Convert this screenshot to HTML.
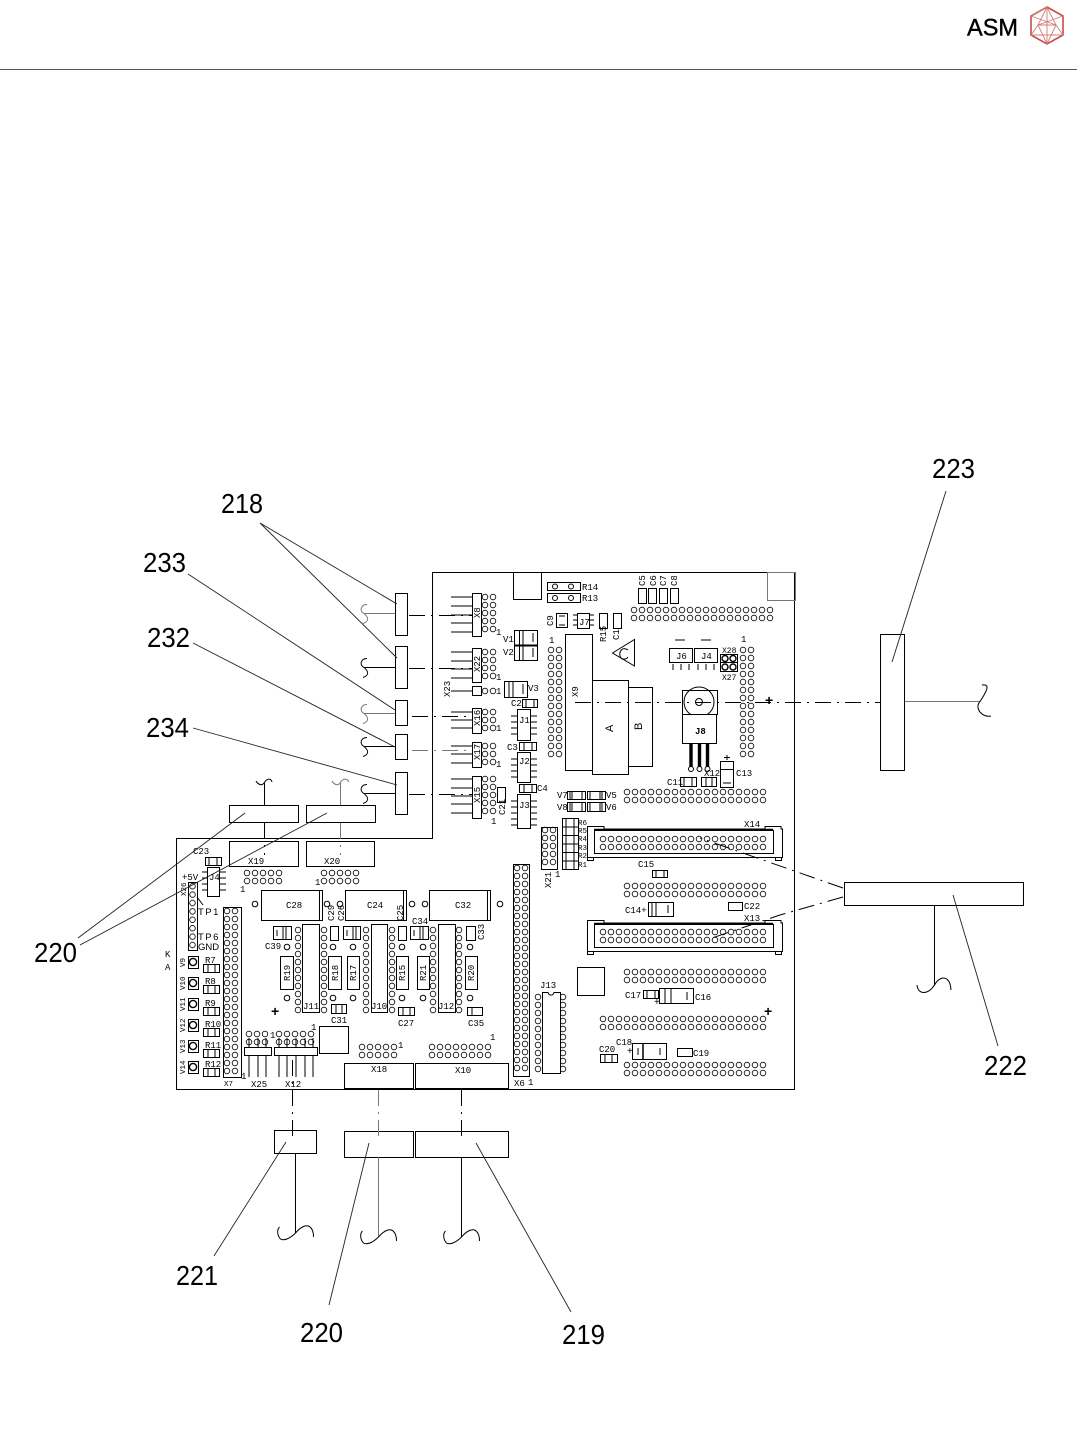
<!DOCTYPE html>
<html><head><meta charset="utf-8"><style>
html,body{margin:0;padding:0;background:#fff}
svg{display:block}
.b{fill:#fff;stroke:#000;stroke-width:1}
.n{fill:none;stroke:#000;stroke-width:1}
.g{fill:none;stroke:#777;stroke-width:1}
.d{fill:none;stroke:#000;stroke-width:1;stroke-dasharray:16 6 2 6}
.dg{fill:none;stroke:#777;stroke-width:1;stroke-dasharray:16 6 2 6}
.l{fill:none;stroke:#222;stroke-width:.9}
text{font-family:"Liberation Sans",sans-serif;fill:#000}
.t{font-family:"Liberation Mono",monospace;font-size:9px}
.L{font-size:28px}
</style></head><body>
<svg width="1077" height="1449" viewBox="0 0 1077 1449" xmlns="http://www.w3.org/2000/svg">
<defs>
<pattern id="h" patternUnits="userSpaceOnUse" width="8" height="8"><circle cx="4" cy="4" r="2.8" fill="#fff" stroke="#000" stroke-width=".8"/></pattern>
<pattern id="v" patternUnits="userSpaceOnUse" width="8" height="8.4"><circle cx="4" cy="4.2" r="2.8" fill="#fff" stroke="#000" stroke-width=".8"/></pattern>
<g id="s"><path class="n" d="M0 0H-31M-31 0C-36 -3 -34 -9 -28 -9M-31 0C-26 4 -26 8 -32 10"/></g>
<g id="sg"><path class="g" d="M0 0H-31M-31 0C-36 -3 -34 -9 -28 -9M-31 0C-26 4 -26 8 -32 10"/></g>
<g id="sb"><path class="n" d="M0 0C-6 6 -12 8 -15 6C-18 3 -19 -3 -16 -6M0 0C5 -6 10 -8 13 -7C17 -5 18 0 18 4"/></g>
</defs>
<rect width="1077" height="1449" fill="#fff"/>

<!-- header -->
<line x1="0" y1="69.5" x2="1077" y2="69.5" stroke="#555" stroke-width="1"/>
<text x="967" y="35.5" font-size="24" textLength="51" lengthAdjust="spacingAndGlyphs" stroke="#000" stroke-width=".4">ASM</text>
<g fill="none" stroke="#c0504a" stroke-width="1.6"><path d="M1047 7L1063 16V35L1047 44L1031 35V16Z"/></g>
<g fill="none" stroke="#d47a74" stroke-width=".9"><path d="M1047 7L1038 25H1056ZM1031 16L1056 25L1047 44L1038 25L1031 35M1063 16L1038 25M1063 35L1056 25M1031 16L1047 7M1047 7V44M1031 35H1063"/></g>

<!-- board outline -->
<path class="n" d="M432.5 572.5H794.5V1089.5H176.5V838.5H432.5Z"/>
<rect class="b" x="513.5" y="572.5" width="28" height="27"/>
<rect class="g" x="767.5" y="572.5" width="28" height="28"/>

<!-- hole grids -->
<g fill="url(#h)">
<rect transform="translate(630,606)" width="144" height="16"/>
<rect transform="translate(623,788)" width="144" height="16"/>
<rect transform="translate(547,646)" width="16" height="112"/>
<rect transform="translate(739,646)" width="16" height="112"/>
<rect transform="translate(623,882)" width="144" height="16"/>
<rect transform="translate(623,968)" width="144" height="16"/>
<rect transform="translate(599,1015)" width="168" height="16"/>
<rect transform="translate(623,1061)" width="144" height="16"/>
<rect transform="translate(223,907)" width="16" height="168"/>
<rect transform="translate(513,864)" width="16" height="208"/>
<rect transform="translate(243,869)" width="40" height="16"/>
<rect transform="translate(320,869)" width="40" height="16"/>
<rect transform="translate(358,1043)" width="40" height="16"/>
<rect transform="translate(428,1043)" width="64" height="16"/>
<rect transform="translate(245,1030)" width="24" height="16"/>
<rect transform="translate(275,1030)" width="40" height="16"/>
<rect transform="translate(294,926)" width="8" height="88"/>
<rect transform="translate(320,926)" width="8" height="88"/>
<rect transform="translate(362,926)" width="8" height="88"/>
<rect transform="translate(388,926)" width="8" height="88"/>
<rect transform="translate(429,926)" width="8" height="88"/>
<rect transform="translate(455,926)" width="8" height="88"/>
<rect transform="translate(534,993)" width="8" height="80"/>
<rect transform="translate(559,993)" width="8" height="80"/>
<rect transform="translate(541,826)" width="16" height="40"/>
<rect transform="translate(481,593)" width="16" height="40"/>
<rect transform="translate(481,648)" width="16" height="32"/>
<rect transform="translate(481,687)" width="16" height="8"/>
<rect transform="translate(481,708)" width="16" height="24"/>
<rect transform="translate(481,742)" width="16" height="24"/>
<rect transform="translate(481,775)" width="16" height="40"/>
</g>
<g fill="url(#v)"><rect transform="translate(188.5,882)" width="8" height="67"/></g>
<rect class="n" x="188.5" y="882.5" width="9" height="68"/>
<rect class="n" x="223.5" y="907.5" width="18" height="170"/>
<rect class="n" x="513.5" y="864.5" width="16" height="212"/>

<!-- small left connectors -->
<path class="n" d="M451 597H472M451 606H472M451 623H472M451 632H472M451 615H472M451 652H472M451 661H472M451 669H472M451 678H472M451 691H472M451 712H472M451 720H472M451 728H472M451 746H472M451 754H472M451 763H472M451 779H472M451 788H472M451 796H472M451 804H472M451 813H472"/>
<rect class="b" x="472.5" y="593.5" width="9" height="43"/>
<rect class="b" x="472.5" y="648.5" width="9" height="34"/>
<rect class="b" x="472.5" y="686.5" width="9" height="9"/>
<rect class="b" x="472.5" y="708.5" width="9" height="25"/>
<rect class="b" x="472.5" y="742.5" width="9" height="25"/>
<rect class="b" x="472.5" y="776.5" width="9" height="42"/>
<text class="t" transform="translate(480,618) rotate(-90)">X8</text>
<text class="t" transform="translate(480,672) rotate(-90)">X22</text>
<text class="t" transform="translate(480,726) rotate(-90)">X16</text>
<text class="t" transform="translate(480,760) rotate(-90)">X17</text>
<text class="t" transform="translate(480,803) rotate(-90)">X15</text>
<text class="t" transform="translate(450,697) rotate(-90)">X23</text>
<text class="t" x="496" y="635">1</text><text class="t" x="496" y="680">1</text><text class="t" x="496" y="694">1</text><text class="t" x="496" y="731">1</text><text class="t" x="496" y="767">1</text><text class="t" x="491" y="824">1</text>

<!-- top parts -->
<rect class="b" x="547.5" y="582.5" width="33" height="8"/><rect class="b" x="547.5" y="593.5" width="33" height="9"/>
<circle class="n" cx="555" cy="586.5" r="2.5"/><circle class="n" cx="571" cy="586.5" r="2.5"/><circle class="n" cx="555" cy="598" r="2.5"/><circle class="n" cx="571" cy="598" r="2.5"/>
<text class="t" x="582" y="590">R14</text><text class="t" x="582" y="601">R13</text>
<rect class="b" x="638.5" y="588.5" width="8" height="15"/><rect class="b" x="648.5" y="588.5" width="8" height="15"/><rect class="b" x="659.5" y="588.5" width="8" height="15"/><rect class="b" x="670.5" y="588.5" width="8" height="15"/>
<text class="t" transform="translate(645,586) rotate(-90)">C5</text><text class="t" transform="translate(656,586) rotate(-90)">C6</text><text class="t" transform="translate(666,586) rotate(-90)">C7</text><text class="t" transform="translate(677,586) rotate(-90)">C8</text>
<rect class="b" x="556.5" y="613.5" width="11" height="14"/><path class="n" d="M559 616H565M559 625H565"/>
<text class="t" transform="translate(553,626) rotate(-90)">C9</text>
<rect class="b" x="577.5" y="613.5" width="12" height="15"/>
<path class="n" d="M573 615H577M573 620H577M573 625H577M590 615H594M590 620H594M590 625H594"/><text class="t" x="579" y="625">J7</text>
<rect class="b" x="599.5" y="613.5" width="8" height="15"/><rect class="b" x="613.5" y="613.5" width="8" height="15"/>
<text class="t" transform="translate(606,642) rotate(-90)">R15</text><text class="t" transform="translate(619,640) rotate(-90)">C1</text>
<rect class="b" x="514.5" y="630.5" width="23" height="15"/><rect class="b" x="514.5" y="645.5" width="23" height="15"/>
<path class="n" d="M519.5 631V660M523 631V660M533 633V642M533 648V657"/><line x1="514" y1="645.5" x2="537" y2="645.5" stroke="#000" stroke-width="2"/>
<text class="t" x="503" y="642">V1</text><text class="t" x="503" y="655">V2</text>
<rect class="b" x="504.5" y="681.5" width="23" height="16"/><path class="n" d="M509 682V697M513 682V697M523 684V694"/><text class="t" x="528" y="691">V3</text>

<!-- ICs left col -->
<rect class="b" x="522.5" y="699.5" width="15" height="8"/><path class="n" d="M526 700V707M534 700V707"/><text class="t" x="511" y="706">C2</text>
<rect class="b" x="517.5" y="709.5" width="13" height="31"/><path class="n" d="M511 716H517M511 722H517M511 728H517M511 734H517M531 716H537M531 722H537M531 728H537M531 734H537"/><text class="t" x="519" y="723">J1</text>
<rect class="b" x="519.5" y="742.5" width="17" height="8"/><path class="n" d="M524 743V750M532 743V750"/><text class="t" x="507" y="750">C3</text>
<rect class="b" x="517.5" y="752.5" width="13" height="30"/><path class="n" d="M511 759H517M511 765H517M511 771H517M511 777H517M531 759H537M531 765H537M531 771H537M531 777H537"/><text class="t" x="519" y="764">J2</text>
<rect class="b" x="519.5" y="784.5" width="17" height="8"/><path class="n" d="M524 785V792M532 785V792"/><text class="t" x="537" y="791">C4</text>
<rect class="b" x="517.5" y="794.5" width="13" height="34"/><path class="n" d="M511 801H517M511 807H517M511 813H517M511 819H517M511 825H517M531 801H537M531 807H537M531 813H537M531 819H537M531 825H537"/><text class="t" x="519" y="808">J3</text>
<rect class="b" x="497.5" y="787.5" width="8" height="15"/><text class="t" transform="translate(505,815) rotate(-90)">C21</text>

<!-- X9 A B -->
<text class="t" x="549" y="643">1</text><text class="t" x="741" y="642">1</text>
<rect class="b" x="592.5" y="680.5" width="36" height="94"/>
<rect class="b" x="628.5" y="687.5" width="24" height="79"/>
<rect class="b" x="565.5" y="634.5" width="27" height="136"/>
<text class="t" transform="translate(578,697) rotate(-90)">X9</text>
<text transform="translate(613,732) rotate(-90)" font-size="11">A</text>
<text transform="translate(642,730) rotate(-90)" font-size="11">B</text>
<path class="n" d="M612.5 653L634.5 639.5V666Z"/><path class="n" d="M628 650C622 646 619 652 620 656C621 660 626 660 628 657"/>

<!-- J6 J4 -->
<rect class="b" x="669.5" y="648.5" width="23" height="14"/><rect class="b" x="694.5" y="648.5" width="23" height="14"/>
<text class="t" x="676" y="659">J6</text><text class="t" x="701" y="659">J4</text>
<path class="n" d="M675 640H685M701 640H711M673 664V670M681 664V670M689 664V670M698 664V670M706 664V670M714 664V670"/>
<rect class="b" x="720.5" y="654.5" width="17" height="8"/><rect class="b" x="720.5" y="662.5" width="17" height="9"/>
<g fill="none" stroke="#000" stroke-width="1.4"><circle cx="725" cy="658.5" r="3"/><circle cx="733" cy="658.5" r="3"/><circle cx="725" cy="667" r="3"/><circle cx="733" cy="667" r="3"/></g>
<text class="t" x="722" y="653" style="font-size:8px">X28</text><text class="t" x="722" y="680" style="font-size:8px">X27</text>

<!-- transistor -->
<rect class="b" x="682.5" y="690.5" width="35" height="24" stroke="#555"/>
<circle class="n" cx="699" cy="702" r="15"/><circle class="n" cx="699" cy="702" r="3.5"/>
<rect class="b" x="682.5" y="714.5" width="34" height="29"/>
<text class="t" x="695" y="734" font-weight="bold">J8</text>
<path d="M691 743V768M699.5 743V768M707.5 743V768" stroke="#000" stroke-width="3.4" fill="none"/>
<circle class="b" cx="691" cy="769" r="2.5"/><circle class="b" cx="699.5" cy="769" r="2.5"/><circle class="b" cx="707.5" cy="769" r="2.5"/>
<rect class="b" x="720.5" y="761.5" width="13" height="26"/><path class="n" d="M720 769.5H733M723 783H731M727 755V760M724 757.5H730"/>
<text class="t" x="736" y="776">C13</text>
<rect class="b" x="680.5" y="777.5" width="16" height="9"/><path class="n" d="M684 778V786M692 778V786"/><text class="t" x="667" y="785">C11</text>
<rect class="b" x="701.5" y="777.5" width="15" height="9"/><path class="n" d="M706 778V786M712 778V786"/><text class="t" x="704" y="776">X12</text>
<text x="765" y="705" font-size="14" font-weight="bold">+</text>

<!-- V5..V8 -->
<rect class="b" x="567.5" y="791.5" width="18" height="8"/><rect class="b" x="587.5" y="791.5" width="18" height="8"/><rect class="b" x="567.5" y="802.5" width="18" height="9"/><rect class="b" x="587.5" y="802.5" width="18" height="9"/>
<path class="n" d="M570 792V799M572 792V799M582 792V799M590 792V799M600 792V799M602 792V799M570 803V811M572 803V811M582 803V811M590 803V811M600 803V811M602 803V811"/>
<text class="t" x="557" y="798">V7</text><text class="t" x="557" y="810">V8</text><text class="t" x="606" y="798">V5</text><text class="t" x="606" y="810">V6</text>

<!-- X21 R1-6 -->
<rect class="n" x="541.5" y="827.5" width="16" height="42"/>
<text class="t" transform="translate(551,888) rotate(-90)">X21</text><text class="t" x="555" y="877">1</text>
<rect class="b" x="562.5" y="818.5" width="16" height="8.5"/><rect class="b" x="562.5" y="827" width="16" height="8.5"/><rect class="b" x="562.5" y="835.5" width="16" height="8.5"/><rect class="b" x="562.5" y="844" width="16" height="8.5"/><rect class="b" x="562.5" y="852.5" width="16" height="8.5"/><rect class="b" x="562.5" y="861" width="16" height="8.5"/>
<path class="n" d="M566 819V869M574 819V869"/>
<text class="t" x="578" y="825" style="font-size:7.5px">R6</text><text class="t" x="578" y="833" style="font-size:7.5px">R5</text><text class="t" x="578" y="841" style="font-size:7.5px">R4</text><text class="t" x="578" y="850" style="font-size:7.5px">R3</text><text class="t" x="578" y="858" style="font-size:7.5px">R2</text><text class="t" x="578" y="867" style="font-size:7.5px">R1</text>

<!-- X14 X13 -->
<path class="b" d="M587.5 826.5H604V829H765V826.5H781V829H782.5V857.5H587.5Z"/>
<rect class="b" x="587.5" y="857.5" width="6" height="3"/><rect class="b" x="775.5" y="857.5" width="6" height="3"/>
<rect class="b" x="594.5" y="830.5" width="179" height="23"/><line x1="594" y1="829.5" x2="773" y2="829.5" stroke="#000" stroke-width="1.6"/>
<rect transform="translate(599,835)" width="168" height="16" fill="url(#h)"/>
<text class="t" x="744" y="827">X14</text>
<path class="b" d="M587.5 920.5H604V923H765V920.5H781V923H782.5V951.5H587.5Z"/>
<rect class="b" x="587.5" y="951.5" width="6" height="3"/><rect class="b" x="775.5" y="951.5" width="6" height="3"/>
<rect class="b" x="594.5" y="924.5" width="179" height="23"/><line x1="594" y1="923.5" x2="773" y2="923.5" stroke="#000" stroke-width="1.6"/>
<rect transform="translate(599,928)" width="168" height="16" fill="url(#h)"/>
<text class="t" x="744" y="921">X13</text>

<!-- right lower parts -->
<rect class="b" x="652.5" y="870.5" width="15" height="7"/><path class="n" d="M656 871V877M664 871V877"/><text class="t" x="638" y="867">C15</text>
<rect class="b" x="648.5" y="902.5" width="25" height="14"/><path class="n" d="M652 903V916M656 903V916M668 905V913"/><text class="t" x="625" y="913">C14+</text>
<rect class="b" x="728.5" y="902.5" width="14" height="8"/><text class="t" x="744" y="909">C22</text>
<rect class="b" x="577.5" y="967.5" width="27" height="28"/>
<path class="b" d="M542.5 992.5H548C549 996 553 996 554 992.5H560.5V1073.5H542.5Z"/>
<text class="t" x="540" y="988">J13</text>
<rect class="b" x="643.5" y="990.5" width="15" height="8"/><path class="n" d="M647 991V998M655 991V998"/><text class="t" x="625" y="998">C17</text>
<rect class="b" x="659.5" y="988.5" width="34" height="15"/><path class="n" d="M665 989V1003M671 989V1003M687 992V1000"/><text class="t" x="695" y="1000">C16</text>
<text x="654" y="1005" font-size="10">+</text>
<text x="764" y="1016" font-size="14" font-weight="bold">+</text>
<rect class="b" x="632.5" y="1043.5" width="34" height="16"/><path class="n" d="M638 1048V1055M660 1048V1055"/><line x1="643" y1="1044" x2="643" y2="1059" stroke="#000" stroke-width="1.5"/><text class="t" x="616" y="1045">C18</text>
<text x="627" y="1054" font-size="10">+</text>
<rect class="b" x="677.5" y="1048.5" width="15" height="8"/><text class="t" x="693" y="1056">C19</text>
<rect class="b" x="600.5" y="1054.5" width="17" height="8"/><path class="n" d="M605 1055V1062M612 1055V1062"/><text class="t" x="599" y="1052">C20</text>
<text class="t" x="514" y="1086">X6</text><text class="t" x="528" y="1085">1</text>

<!-- lower left board -->
<rect class="b" x="229.5" y="841.5" width="69" height="25"/><rect class="b" x="306.5" y="841.5" width="68" height="25"/>
<text class="t" x="248" y="864">X19</text><text class="t" x="324" y="864">X20</text>
<text class="t" x="240" y="892">1</text><text class="t" x="315" y="885">1</text>
<text class="t" x="193" y="854">C23</text>
<rect class="b" x="205.5" y="857.5" width="16" height="8"/><path class="n" d="M209 858V865M217 858V865"/>
<rect class="b" x="207.5" y="867.5" width="12" height="29"/><path class="n" d="M202 872H207M202 878H207M202 884H207M202 890H207M220 872H226M220 878H226M220 884H226M220 890H226"/>
<text class="t" x="209" y="880">J4</text>
<text class="t" x="182" y="880">+5V</text>
<text class="t" transform="translate(186,896) rotate(-90)" style="font-size:7.5px">X26</text>
<text x="198" y="915" font-size="9.5" letter-spacing="1.5">TP1</text><text x="198" y="940" font-size="9.5" letter-spacing="1.5">TP6</text><text x="198" y="950" font-size="9.5">GND</text>
<path class="n" d="M197 897L203 905"/>
<text class="t" x="165" y="957">K</text><text class="t" x="165" y="970">A</text>

<!-- V9-14 + R7-12 -->
<rect class="b" x="188.5" y="956.5" width="10" height="12"/><rect class="b" x="188.5" y="977.5" width="10" height="12"/><rect class="b" x="188.5" y="998.5" width="10" height="12"/><rect class="b" x="188.5" y="1019.5" width="10" height="12"/><rect class="b" x="188.5" y="1040.5" width="10" height="12"/><rect class="b" x="188.5" y="1061.5" width="10" height="12"/>
<g fill="#fff" stroke="#000" stroke-width="1.4"><circle cx="193" cy="962" r="3.6"/><circle cx="193" cy="983" r="3.6"/><circle cx="193" cy="1004" r="3.6"/><circle cx="193" cy="1025" r="3.6"/><circle cx="193" cy="1046" r="3.6"/><circle cx="193" cy="1067" r="3.6"/></g>
<text class="t" transform="translate(185,967) rotate(-90)" style="font-size:7.5px">V9</text><text class="t" transform="translate(185,990) rotate(-90)" style="font-size:7.5px">V10</text><text class="t" transform="translate(185,1011) rotate(-90)" style="font-size:7.5px">V11</text><text class="t" transform="translate(185,1032) rotate(-90)" style="font-size:7.5px">V12</text><text class="t" transform="translate(185,1053) rotate(-90)" style="font-size:7.5px">V13</text><text class="t" transform="translate(185,1074) rotate(-90)" style="font-size:7.5px">V14</text>
<rect class="b" x="203.5" y="964.5" width="16" height="8"/><rect class="b" x="203.5" y="985.5" width="16" height="8"/><rect class="b" x="203.5" y="1007.5" width="16" height="8"/><rect class="b" x="203.5" y="1028.5" width="16" height="8"/><rect class="b" x="203.5" y="1049.5" width="16" height="8"/><rect class="b" x="203.5" y="1068.5" width="16" height="8"/>
<path class="n" d="M208 965V972M215 965V972M208 986V993M215 986V993M208 1008V1015M215 1008V1015M208 1029V1036M215 1029V1036M208 1050V1057M215 1050V1057M208 1069V1076M215 1069V1076"/>
<text class="t" x="205" y="963">R7</text><text class="t" x="205" y="984">R8</text><text class="t" x="205" y="1006">R9</text><text class="t" x="205" y="1027">R10</text><text class="t" x="205" y="1048">R11</text><text class="t" x="205" y="1067">R12</text>
<text class="t" x="224" y="1086" style="font-size:7.5px">X7</text><text class="t" x="241" y="1079">1</text>

<!-- big caps -->
<rect class="b" x="261.5" y="890.5" width="61" height="30"/><rect class="b" x="345.5" y="890.5" width="61" height="30"/><rect class="b" x="429.5" y="890.5" width="61" height="30"/>
<path class="n" d="M319.5 890V921M403.5 890V921M487.5 890V921"/>
<circle class="b" cx="255" cy="904" r="2.8"/><circle class="b" cx="327" cy="904" r="2.8"/><circle class="b" cx="340" cy="904" r="2.8"/><circle class="b" cx="412" cy="904" r="2.8"/><circle class="b" cx="425" cy="904" r="2.8"/><circle class="b" cx="500" cy="904" r="2.8"/>
<text class="t" x="286" y="908">C28</text><text class="t" x="367" y="908">C24</text><text class="t" x="455" y="908">C32</text>
<text class="t" transform="translate(334,921) rotate(-90)">C29</text><text class="t" transform="translate(344,921) rotate(-90)">C26</text><text class="t" transform="translate(403,921) rotate(-90)">C25</text>
<text class="t" x="412" y="924">C34</text>

<!-- ICs -->
<path class="b" d="M302.5 924.5H319.5V1012.5H302.5Z"/><path class="b" d="M371.5 924.5H387.5V1012.5H371.5Z"/><path class="b" d="M438.5 924.5H455.5V1012.5H438.5Z"/>
<text class="t" x="303" y="1009">J11</text><text class="t" x="371" y="1009">J10</text><text class="t" x="438" y="1009">J12</text>
<rect class="b" x="280.5" y="956.5" width="13" height="33"/><rect class="b" x="328.5" y="956.5" width="13" height="33"/><rect class="b" x="347.5" y="956.5" width="12" height="33"/><rect class="b" x="396.5" y="956.5" width="12" height="33"/><rect class="b" x="417.5" y="956.5" width="12" height="33"/><rect class="b" x="465.5" y="956.5" width="12" height="33"/>
<text class="t" transform="translate(290,981) rotate(-90)">R19</text><text class="t" transform="translate(338,981) rotate(-90)">R18</text><text class="t" transform="translate(356,981) rotate(-90)">R17</text><text class="t" transform="translate(405,981) rotate(-90)">R15</text><text class="t" transform="translate(426,981) rotate(-90)">R21</text><text class="t" transform="translate(474,981) rotate(-90)">R20</text>
<rect class="b" x="273.5" y="926.5" width="18" height="13"/><rect class="b" x="343.5" y="926.5" width="17" height="13"/><rect class="b" x="410.5" y="926.5" width="18" height="13"/>
<path class="n" d="M277 930V936M283 927V939M286 927V939M347 930V936M353 927V939M356 927V939M414 930V936M420 927V939M423 927V939"/>
<rect class="b" x="330.5" y="926.5" width="8" height="14"/><rect class="b" x="398.5" y="926.5" width="8" height="14"/><rect class="b" x="466.5" y="926.5" width="9" height="14"/>
<text class="t" x="265" y="949">C39</text><text class="t" transform="translate(484,940) rotate(-90)">C33</text>
<circle class="b" cx="287" cy="947" r="2.8"/><circle class="b" cx="333" cy="947" r="2.8"/><circle class="b" cx="353" cy="947" r="2.8"/><circle class="b" cx="402" cy="947" r="2.8"/><circle class="b" cx="423" cy="947" r="2.8"/><circle class="b" cx="470" cy="947" r="2.8"/><circle class="b" cx="287" cy="998" r="2.8"/><circle class="b" cx="333" cy="998" r="2.8"/><circle class="b" cx="353" cy="998" r="2.8"/><circle class="b" cx="402" cy="998" r="2.8"/><circle class="b" cx="423" cy="998" r="2.8"/><circle class="b" cx="470" cy="998" r="2.8"/>
<rect class="b" x="331.5" y="1004.5" width="15" height="9"/><rect class="b" x="398.5" y="1007.5" width="16" height="8"/><rect class="b" x="467.5" y="1007.5" width="15" height="8"/>
<path class="n" d="M336 1005V1013M342 1005V1013M403 1008V1015M410 1008V1015M472 1008V1015"/>
<text class="t" x="331" y="1023">C31</text><text class="t" x="398" y="1026">C27</text><text class="t" x="468" y="1026">C35</text>
<text x="271" y="1016" font-size="14" font-weight="bold">+</text>
<rect class="b" x="319.5" y="1026.5" width="29" height="27"/>

<!-- X25 X12 -->
<path class="n" d="M249 1038V1077M258 1038V1077M266 1038V1077M279 1038V1077M287 1038V1077M296 1038V1077M305 1038V1077M313 1038V1077"/>
<rect class="b" x="244.5" y="1047.5" width="27" height="8"/><rect class="b" x="274.5" y="1047.5" width="43" height="8"/>
<text class="t" x="251" y="1087">X25</text><text class="t" x="285" y="1087">X12</text><text class="t" x="270" y="1038">1</text><text class="t" x="311" y="1030">1</text>
<text class="t" x="398" y="1048">1</text><text class="t" x="490" y="1040">1</text>
<rect class="b" x="344.5" y="1063.5" width="69" height="25"/><rect class="b" x="415.5" y="1063.5" width="93" height="25"/>
<text class="t" x="371" y="1072">X18</text><text class="t" x="455" y="1073">X10</text>

<!-- external connectors -->
<rect class="b" x="395.5" y="593.5" width="12" height="42"/><rect class="b" x="395.5" y="646.5" width="12" height="42"/><rect class="b" x="395.5" y="700.5" width="12" height="25"/><rect class="b" x="395.5" y="734.5" width="12" height="25"/><rect class="b" x="395.5" y="772.5" width="12" height="42"/>
<use href="#sg" transform="translate(395,613.5)"/><use href="#s" transform="translate(395,667.5)"/><use href="#sg" transform="translate(395,713.5)"/><use href="#s" transform="translate(395,746.5)"/><use href="#s" transform="translate(395,793.5)"/>
<path class="d" d="M409 615.5H472M409 668.5H472M412 716.5H472M409 794.5H472"/><path class="dg" d="M412 750.5H472"/>

<rect class="b" x="229.5" y="805.5" width="69" height="17"/><rect class="b" x="306.5" y="805.5" width="69" height="17"/>
<path class="n" d="M264.5 805V783M264 783C261 787 257 783 256 781M264 783C267 778 271 778 272 782"/>
<path class="g" d="M340.5 805V783M340 783C337 787 333 783 332 781M340 783C343 778 347 778 349 782"/>
<path class="d" d="M264.5 823V855"/><path class="dg" d="M340.5 823V855"/>

<rect class="b" x="880.5" y="634.5" width="24" height="136"/>
<path class="g" d="M905 701.5H980"/><path class="n" d="M980 701.5C989 688 989 684 982 685M980 701.5C974 708 982 718 991 716"/>
<path class="d" d="M575 702.5H880"/>

<rect class="b" x="844.5" y="882.5" width="179" height="23"/>
<path class="n" d="M934.5 905V985M934.5 985C928 995 918 995 917 985M934.5 985C940 975 950 975 951 990"/>
<path class="d" d="M843 888L700 838"/><path class="d" d="M843 897L780 915L712 938"/>

<rect class="b" x="274.5" y="1130.5" width="42" height="23"/><rect class="b" x="344.5" y="1131.5" width="69" height="26"/><rect class="b" x="415.5" y="1131.5" width="93" height="26"/>
<line x1="295.5" y1="1153" x2="295.5" y2="1233" stroke="#000"/>
<line x1="378.5" y1="1157" x2="378.5" y2="1237" stroke="#777"/>
<line x1="461.5" y1="1157" x2="461.5" y2="1237" stroke="#000"/>
<use href="#sb" transform="translate(295.5,1233)"/><use href="#sb" transform="translate(378.5,1237)"/><use href="#sb" transform="translate(461.5,1237)"/>
<path class="d" d="M292.5 1060V1136"/><path class="dg" d="M378.5 1090V1139"/><path class="d" d="M461.5 1090V1139"/>

<!-- leaders -->
<path class="l" d="M260 523L397 604M260 523L397 658M188 574L395 710M193 643L395 747M193 728L397 785"/>
<path class="l" d="M946 491L892 662M78 938L245 813M80 945L327 813M998 1046L953 895M214 1256L286 1142M329 1305L369 1143M571 1312L476 1143"/>

<!-- labels -->
<text class="L" x="221" y="513" textLength="42" lengthAdjust="spacingAndGlyphs">218</text>
<text class="L" x="143" y="572" textLength="43" lengthAdjust="spacingAndGlyphs">233</text>
<text class="L" x="147" y="647" textLength="43" lengthAdjust="spacingAndGlyphs">232</text>
<text class="L" x="146" y="737" textLength="43" lengthAdjust="spacingAndGlyphs">234</text>
<text class="L" x="932" y="478" textLength="43" lengthAdjust="spacingAndGlyphs">223</text>
<text class="L" x="34" y="962" textLength="43" lengthAdjust="spacingAndGlyphs">220</text>
<text class="L" x="984" y="1075" textLength="43" lengthAdjust="spacingAndGlyphs">222</text>
<text class="L" x="176" y="1285" textLength="42" lengthAdjust="spacingAndGlyphs">221</text>
<text class="L" x="300" y="1342" textLength="43" lengthAdjust="spacingAndGlyphs">220</text>
<text class="L" x="562" y="1344" textLength="43" lengthAdjust="spacingAndGlyphs">219</text>
</svg>
</body></html>
